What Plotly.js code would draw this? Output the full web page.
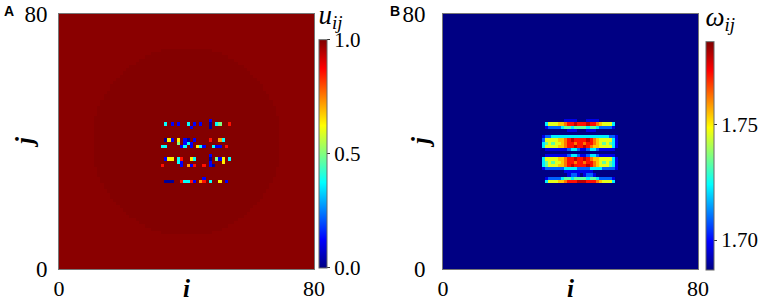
<!DOCTYPE html>
<html><head><meta charset="utf-8">
<script src="https://cdn.plot.ly/plotly-3.0.1.min.js"></script>
<style>html,body{margin:0;padding:0;background:#fff}#chart{width:761px;height:301px}</style>
</head><body><div id="chart"></div>
<script>
// ---------- data ----------
const gridSize = 80;                 // lattice is 80 x 80 (i, j = 0..79)
const stripeFirstColumn = 31;        // first column (i) of the stripe strings below

// Panel A: u_ij
const uBackground = 0.990;           // outside the faint disc
const uDisc = 0.997;                 // inside the faint disc
const discCenter = [40, 40];
const discRadius = 29.5;
const uLevels = {b: 0.02, B: 0.12, c: 0.38, g: 0.5, y: 0.64, o: 0.72, r: 0.86};
const uRows = [46, 45, 44, 40, 39, 38, 35, 34, 33, 32, 28, 27];
const uStripes = [
  "................B.......",
  "..c.B.B..c.B.B..b.cg..r.",
  "..........B.....b.......",
  "..byB.y.Bb.B....r..oc...",
  "......g.BcB.............",
  ".cc....Bc.B.ycB..cBB.r..",
  "................B.......",
  "..Byy.cr..yc....b.gBy.c.",
  "......cB........B...y...",
  ".r.....B.oBr..r.Bb......",
  "..............B.........",
  "..bbb..rccrB.or.c..y.B.."
];

// Panel B: omega_ij
const wBackground = 1.687;
const wLevels = {'1': 1.6969, '2': 1.7088, '3': 1.7226, '4': 1.7335, '5': 1.7464,
                 '6': 1.7543, '7': 1.7622, '8': 1.7721, '9': 1.7801};
const wRows = [46, 45, 44, 43, 41, 40, 39, 38, 37, 35, 34, 33, 32, 31, 30, 29, 28, 27];
const wStripes = [
  ".......1111...1111......",
  ".3555667889888988765553.",
  ".1222234434444344322221.",
  "........111...111.......",
  "122333333333333333333221",
  "255556678988889876555531",
  "345455678878878876545431",
  "355556678898898766555531",
  ".1111111233211233211111.",
  ".1111111233211233211111.",
  "355556678898898766555531",
  "345455678878878876545431",
  "345556678988889876555431",
  "122222233332222333322221",
  ".......111111111........",
  "........1221.1221.......",
  ".1222234434444344322221.",
  ".3555667888999888765553."
];

const uRange = [0, 1];
const wRange = [1.687, 1.786];
const uTickVals = [0, 0.5, 1.0];
const uTickText = ["0.0", "0.5", "1.0"];
const wTickVals = [1.70, 1.75];
const wTickText = ["1.70", "1.75"];
const axisTickVals = [0, 80];
const axisTickText = ["0", "80"];

// ---------- build grids ----------
function buildGrid(bgFn, rows, stripes, levels) {
  const z = [];
  for (let j = 0; j < gridSize; j++) {
    const row = [];
    for (let i = 0; i < gridSize; i++) row.push(bgFn(i, j));
    z.push(row);
  }
  rows.forEach((j, k) => {
    const s = stripes[k];
    for (let p = 0; p < s.length; p++) {
      const ch = s[p];
      if (ch in levels) z[j][stripeFirstColumn + p] = levels[ch];
    }
  });
  return z;
}
const zU = buildGrid((i, j) => {
  const dx = i + 0.5 - discCenter[0], dy = j + 0.5 - discCenter[1];
  return (dx * dx + dy * dy <= discRadius * discRadius) ? uDisc : uBackground;
}, uRows, uStripes, uLevels);
const zW = buildGrid(() => wBackground, wRows, wStripes, wLevels);

const jet = [[0, 'rgb(0,0,131)'], [0.125, 'rgb(0,0,255)'], [0.375, 'rgb(0,255,255)'],
             [0.625, 'rgb(255,255,0)'], [0.875, 'rgb(255,0,0)'], [1, 'rgb(128,0,0)']];

const W = 761, H = 301;
const serif = 'Liberation Serif';
const plotTop = 14, plotBottom = 269;
const aLeft = 59, aRight = 314, bLeft = 443, bRight = 698;

function cbar(x, top, bottom, room, title, vals, text) {
  return {
    x: x / W, xanchor: 'left', xref: 'paper',
    y: (H - bottom) / H, yanchor: 'bottom', yref: 'paper',
    len: bottom - top + room, lenmode: 'pixels',
    thickness: 8, xpad: 0, ypad: 0,
    outlinewidth: 1, outlinecolor: '#666',
    ticks: 'outside', ticklen: 3, tickcolor: '#333',
    tickvals: vals, ticktext: text, tickfont: {family: serif, size: 21, color: '#000'},
    title: {text: title, side: 'top', font: {family: serif, size: 27, color: '#000'}}
  };
}

const traces = [
  {type: 'heatmap', z: zU, x0: 0.5, dx: 1, y0: 0.5, dy: 1, xaxis: 'x', yaxis: 'y',
   zmin: uRange[0], zmax: uRange[1], colorscale: jet, zsmooth: false, hoverinfo: 'skip',
   colorbar: cbar(319, 41, 268, 40, '<i>u</i><sub><i>ij</i></sub>', uTickVals, uTickText)},
  {type: 'heatmap', z: zW, x0: 0.5, dx: 1, y0: 0.5, dy: 1, xaxis: 'x2', yaxis: 'y2',
   zmin: wRange[0], zmax: wRange[1], colorscale: jet, zsmooth: false, hoverinfo: 'skip',
   colorbar: cbar(706, 39, 270, 36, '<i>ω</i><sub><i>ij</i></sub>', wTickVals, wTickText)}
];

function ax(domain, anchor, standoff, size) {
  return {domain: domain, anchor: anchor, range: [0, 80], tickvals: axisTickVals, ticktext: axisTickText,
          ticks: '', showgrid: false, zeroline: false, showline: true, mirror: true,
          linecolor: '#777', linewidth: 1, ticklabelstandoff: standoff || 0,
          tickfont: {family: serif, size: size, color: '#000'}, fixedrange: true};
}
const yDom = [(H - plotBottom) / H, (H - plotTop) / H];
function note(text, xpx, ypx, size, family, angle) {
  return {text: text, x: xpx / W, y: (H - ypx) / H, xref: 'paper', yref: 'paper',
          xanchor: 'center', yanchor: 'middle', showarrow: false, textangle: angle || 0,
          font: {family: family, size: size, color: '#000'}};
}
const layout = {
  width: W, height: H, margin: {l: 0, r: 0, t: 0, b: 0},
  paper_bgcolor: '#fff', plot_bgcolor: '#fff', showlegend: false,
  xaxis: ax([aLeft / W, aRight / W], 'y', 0, 22),
  yaxis: ax(yDom, 'x', 6, 23),
  xaxis2: ax([bLeft / W, bRight / W], 'y2', 0, 22),
  yaxis2: ax(yDom, 'x2', 12, 23),
  annotations: [
    note('<b>A</b>', 9, 11, 14, 'Liberation Sans'),
    note('<b>B</b>', 395, 11, 14, 'Liberation Sans'),
    note('<b><i>i</i></b>', (aLeft + aRight) / 2, 288, 25, serif),
    note('<b><i>i</i></b>', (bLeft + bRight) / 2, 288, 25, serif),
    note('<b><i>j</i></b>', 24, 142, 25, serif, -90),
    note('<b><i>j</i></b>', 420, 142, 25, serif, -90)
  ]
};
Plotly.newPlot('chart', traces, layout, {staticPlot: true, displayModeBar: false});
</script></body></html>
